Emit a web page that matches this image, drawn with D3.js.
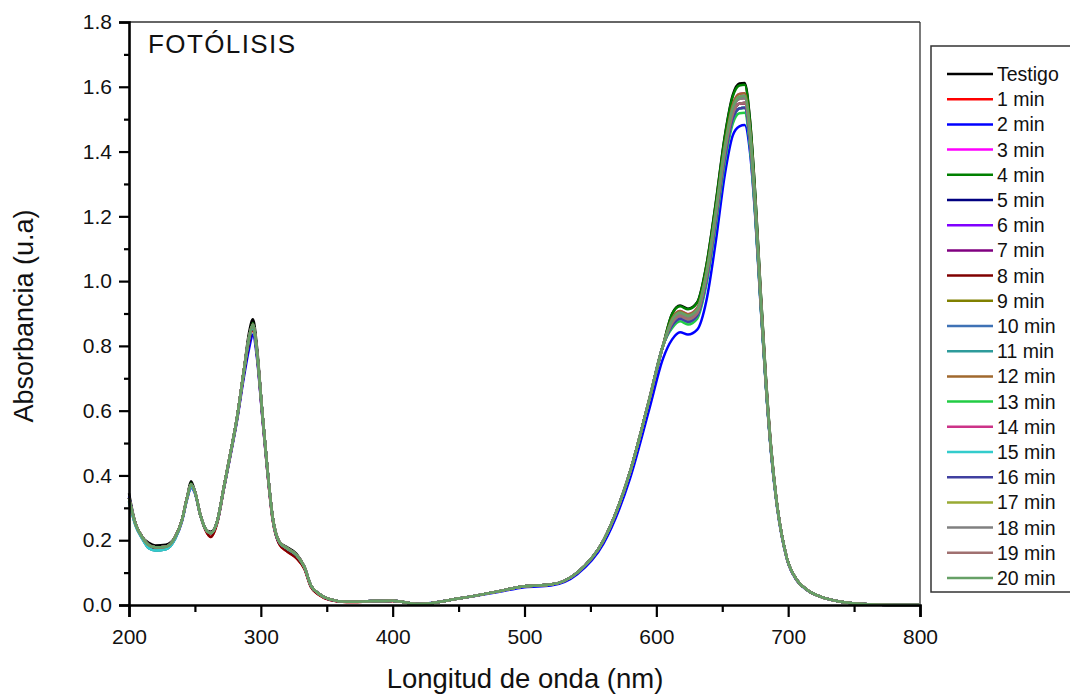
<!DOCTYPE html>
<html>
<head>
<meta charset="utf-8">
<script src="https://cdn.jsdelivr.net/npm/d3@7"></script>
<style>
  body { margin: 0; background: #fff; }
  text { font-family: "Liberation Sans", Arial, sans-serif; fill: #111; }
</style>
</head>
<body>
<script>
// wavelengths (nm) shared by every spectrum
var wavelengths = [200,205,210,215,220,228,235,240,244,247,250,254,258,262,267,272,277,282,287,291,294,297,301,305,309,314,320,327,333,338,344,352,365,385,400,420,450,480,500,520,540,560,580,595,605,612,618,624,631,638,645,652,658,663,667,671,675,679,683,687,691,699,707,715,725,740,760,780,800];

var seriesNames = ["Testigo","1 min","2 min","3 min","4 min","5 min","6 min","7 min","8 min","9 min","10 min","11 min","12 min","13 min","14 min","15 min","16 min","17 min","18 min","19 min","20 min"];

var seriesColors = ["#000000","#ff0000","#0000ff","#ff00ff","#008000","#000080","#8000ff","#800080","#800000","#808000","#3f72b5","#2e9b9b","#a0692e","#22cc44","#cc3388","#33cccc","#4040a0","#99aa33","#808080","#a07070","#66a066"];

// absorbance, one array per spectrum
var testigo = [0.345,0.25,0.21,0.192,0.184,0.186,0.21,0.26,0.33,0.382,0.35,0.28,0.235,0.226,0.26,0.365,0.47,0.58,0.72,0.84,0.882,0.80,0.60,0.42,0.27,0.195,0.178,0.158,0.118,0.06,0.035,0.018,0.01,0.012,0.013,0.003,0.02,0.042,0.058,0.063,0.1,0.2,0.41,0.64,0.8,0.900,0.925,0.915,0.935,1.050,1.240,1.450,1.575,1.610,1.612,1.500,1.270,0.980,0.710,0.490,0.330,0.145,0.075,0.045,0.025,0.01,0.002,0,0];
var min1 = [0.33,0.25,0.21,0.182,0.176,0.178,0.21,0.26,0.33,0.37,0.35,0.28,0.232,0.21,0.255,0.36,0.465,0.575,0.71,0.81,0.855,0.775,0.59,0.41,0.262,0.188,0.165,0.145,0.112,0.056,0.032,0.016,0.009,0.011,0.012,0.003,0.02,0.042,0.058,0.063,0.1,0.2,0.41,0.64,0.8,0.877,0.900,0.890,0.909,1.020,1.205,1.408,1.530,1.563,1.565,1.458,1.238,0.958,0.696,0.482,0.327,0.145,0.075,0.045,0.025,0.01,0.002,0,0];
var min2 = [0.335,0.25,0.21,0.18,0.172,0.176,0.205,0.255,0.325,0.362,0.345,0.278,0.233,0.222,0.256,0.36,0.462,0.57,0.7,0.79,0.835,0.765,0.585,0.41,0.265,0.19,0.172,0.152,0.115,0.058,0.034,0.017,0.01,0.012,0.013,0.003,0.02,0.04,0.055,0.06,0.095,0.19,0.39,0.61,0.76,0.820,0.842,0.835,0.850,0.940,1.120,1.330,1.450,1.478,1.482,1.400,1.200,0.930,0.680,0.470,0.320,0.142,0.073,0.044,0.025,0.01,0.002,0,0];
var min3 = [0.33,0.25,0.21,0.185,0.178,0.18,0.21,0.26,0.33,0.372,0.35,0.28,0.235,0.222,0.26,0.365,0.47,0.58,0.72,0.825,0.865,0.785,0.60,0.42,0.27,0.195,0.175,0.155,0.118,0.06,0.035,0.018,0.01,0.012,0.013,0.003,0.02,0.042,0.058,0.063,0.1,0.2,0.41,0.64,0.8,0.885,0.908,0.898,0.917,1.030,1.215,1.422,1.545,1.578,1.580,1.472,1.248,0.965,0.700,0.485,0.328,0.145,0.075,0.045,0.025,0.01,0.002,0,0];
var min4 = [0.33,0.25,0.21,0.185,0.178,0.18,0.21,0.26,0.33,0.375,0.35,0.28,0.235,0.223,0.26,0.365,0.47,0.58,0.72,0.83,0.87,0.79,0.60,0.42,0.27,0.195,0.176,0.156,0.118,0.06,0.035,0.018,0.01,0.012,0.013,0.003,0.02,0.042,0.058,0.063,0.1,0.2,0.41,0.64,0.8,0.898,0.922,0.913,0.933,1.048,1.236,1.446,1.570,1.604,1.606,1.496,1.268,0.978,0.709,0.489,0.330,0.145,0.075,0.045,0.025,0.01,0.002,0,0];
var min5 = [0.33,0.25,0.21,0.185,0.178,0.18,0.21,0.26,0.33,0.372,0.35,0.28,0.235,0.222,0.26,0.365,0.47,0.58,0.72,0.825,0.865,0.785,0.60,0.42,0.27,0.195,0.175,0.155,0.118,0.06,0.035,0.018,0.01,0.012,0.013,0.003,0.02,0.042,0.058,0.063,0.1,0.2,0.41,0.64,0.8,0.870,0.892,0.882,0.900,1.010,1.193,1.395,1.515,1.548,1.550,1.444,1.226,0.950,0.690,0.478,0.326,0.145,0.075,0.045,0.025,0.01,0.002,0,0];
var min6 = [0.33,0.25,0.21,0.185,0.178,0.18,0.21,0.26,0.33,0.372,0.35,0.28,0.235,0.222,0.26,0.365,0.47,0.58,0.72,0.825,0.865,0.785,0.60,0.42,0.27,0.195,0.175,0.155,0.118,0.06,0.035,0.018,0.01,0.012,0.013,0.003,0.02,0.042,0.058,0.063,0.1,0.2,0.41,0.64,0.8,0.877,0.900,0.890,0.909,1.020,1.205,1.408,1.530,1.563,1.565,1.458,1.238,0.958,0.696,0.482,0.327,0.145,0.075,0.045,0.025,0.01,0.002,0,0];
var min7 = [0.33,0.25,0.21,0.185,0.178,0.18,0.21,0.26,0.33,0.372,0.35,0.28,0.235,0.222,0.26,0.365,0.47,0.58,0.72,0.825,0.865,0.785,0.60,0.42,0.27,0.195,0.175,0.155,0.118,0.06,0.035,0.018,0.01,0.012,0.013,0.003,0.02,0.042,0.058,0.063,0.1,0.2,0.41,0.64,0.8,0.870,0.892,0.882,0.900,1.010,1.193,1.395,1.515,1.548,1.550,1.444,1.226,0.950,0.690,0.478,0.326,0.145,0.075,0.045,0.025,0.01,0.002,0,0];
var min8 = [0.33,0.25,0.21,0.182,0.176,0.178,0.21,0.26,0.33,0.37,0.35,0.28,0.232,0.21,0.255,0.36,0.465,0.575,0.71,0.81,0.855,0.775,0.59,0.41,0.262,0.188,0.165,0.145,0.112,0.056,0.032,0.016,0.009,0.011,0.012,0.003,0.02,0.042,0.058,0.063,0.1,0.2,0.41,0.64,0.8,0.870,0.892,0.882,0.900,1.010,1.193,1.395,1.515,1.548,1.550,1.444,1.226,0.950,0.690,0.478,0.326,0.145,0.075,0.045,0.025,0.01,0.002,0,0];
var min9 = [0.33,0.25,0.21,0.185,0.178,0.18,0.21,0.26,0.33,0.372,0.35,0.28,0.235,0.222,0.26,0.365,0.47,0.58,0.72,0.825,0.865,0.785,0.60,0.42,0.27,0.195,0.175,0.155,0.118,0.06,0.035,0.018,0.01,0.012,0.013,0.003,0.02,0.042,0.058,0.063,0.1,0.2,0.41,0.64,0.8,0.862,0.884,0.874,0.892,1.000,1.180,1.380,1.500,1.533,1.535,1.430,1.214,0.942,0.686,0.476,0.325,0.145,0.075,0.045,0.025,0.01,0.002,0,0];
var min10 = [0.32,0.245,0.205,0.175,0.168,0.172,0.205,0.258,0.328,0.365,0.348,0.28,0.235,0.222,0.26,0.363,0.468,0.578,0.716,0.82,0.86,0.78,0.598,0.418,0.268,0.194,0.174,0.154,0.117,0.06,0.035,0.018,0.01,0.012,0.013,0.003,0.02,0.042,0.058,0.063,0.1,0.2,0.41,0.64,0.8,0.862,0.884,0.874,0.892,1.000,1.180,1.380,1.500,1.533,1.535,1.430,1.214,0.942,0.686,0.476,0.325,0.145,0.075,0.045,0.025,0.01,0.002,0,0];
var min11 = [0.32,0.245,0.205,0.175,0.168,0.172,0.205,0.258,0.328,0.365,0.348,0.28,0.235,0.222,0.26,0.363,0.468,0.578,0.716,0.82,0.86,0.78,0.598,0.418,0.268,0.194,0.174,0.154,0.117,0.06,0.035,0.018,0.01,0.012,0.013,0.003,0.02,0.042,0.058,0.063,0.1,0.2,0.41,0.64,0.8,0.862,0.884,0.874,0.892,1.000,1.180,1.380,1.500,1.533,1.535,1.430,1.214,0.942,0.686,0.476,0.325,0.145,0.075,0.045,0.025,0.01,0.002,0,0];
var min12 = [0.33,0.25,0.21,0.185,0.178,0.18,0.21,0.26,0.33,0.372,0.35,0.28,0.235,0.222,0.26,0.365,0.47,0.58,0.72,0.825,0.865,0.785,0.60,0.42,0.27,0.195,0.175,0.155,0.118,0.06,0.035,0.018,0.01,0.012,0.013,0.003,0.02,0.042,0.058,0.063,0.1,0.2,0.41,0.64,0.8,0.885,0.908,0.898,0.917,1.030,1.215,1.422,1.545,1.578,1.580,1.472,1.248,0.965,0.700,0.485,0.328,0.145,0.075,0.045,0.025,0.01,0.002,0,0];
var min13 = [0.33,0.25,0.21,0.185,0.178,0.18,0.21,0.26,0.33,0.372,0.35,0.28,0.235,0.222,0.26,0.365,0.47,0.58,0.72,0.825,0.865,0.785,0.60,0.42,0.27,0.195,0.175,0.155,0.118,0.06,0.035,0.018,0.01,0.012,0.013,0.003,0.02,0.042,0.058,0.063,0.1,0.2,0.41,0.64,0.8,0.855,0.876,0.866,0.884,0.990,1.168,1.368,1.486,1.518,1.520,1.416,1.204,0.935,0.682,0.474,0.324,0.145,0.075,0.045,0.025,0.01,0.002,0,0];
var min14 = [0.33,0.25,0.21,0.185,0.178,0.18,0.21,0.26,0.33,0.372,0.35,0.28,0.235,0.222,0.26,0.365,0.47,0.58,0.72,0.825,0.865,0.785,0.60,0.42,0.27,0.195,0.175,0.155,0.118,0.06,0.035,0.018,0.01,0.012,0.013,0.003,0.02,0.042,0.058,0.063,0.1,0.2,0.41,0.64,0.8,0.870,0.892,0.882,0.900,1.010,1.193,1.395,1.515,1.548,1.550,1.444,1.226,0.950,0.690,0.478,0.326,0.145,0.075,0.045,0.025,0.01,0.002,0,0];
var min15 = [0.32,0.245,0.205,0.175,0.168,0.172,0.205,0.258,0.328,0.365,0.348,0.28,0.235,0.222,0.26,0.363,0.468,0.578,0.716,0.82,0.86,0.78,0.598,0.418,0.268,0.194,0.174,0.154,0.117,0.06,0.035,0.018,0.01,0.012,0.013,0.003,0.02,0.042,0.058,0.063,0.1,0.2,0.41,0.64,0.8,0.862,0.884,0.874,0.892,1.000,1.180,1.380,1.500,1.533,1.535,1.430,1.214,0.942,0.686,0.476,0.325,0.145,0.075,0.045,0.025,0.01,0.002,0,0];
var min16 = [0.33,0.25,0.21,0.185,0.178,0.18,0.21,0.26,0.33,0.372,0.35,0.28,0.235,0.222,0.26,0.365,0.47,0.58,0.72,0.825,0.865,0.785,0.60,0.42,0.27,0.195,0.175,0.155,0.118,0.06,0.035,0.018,0.01,0.012,0.013,0.003,0.02,0.042,0.058,0.063,0.1,0.2,0.41,0.64,0.8,0.862,0.884,0.874,0.892,1.000,1.180,1.380,1.500,1.533,1.535,1.430,1.214,0.942,0.686,0.476,0.325,0.145,0.075,0.045,0.025,0.01,0.002,0,0];
var min17 = [0.33,0.25,0.21,0.185,0.178,0.18,0.21,0.26,0.33,0.372,0.35,0.28,0.235,0.222,0.26,0.365,0.47,0.58,0.72,0.825,0.865,0.785,0.60,0.42,0.27,0.195,0.175,0.155,0.118,0.06,0.035,0.018,0.01,0.012,0.013,0.003,0.02,0.042,0.058,0.063,0.1,0.2,0.41,0.64,0.8,0.877,0.900,0.890,0.909,1.020,1.205,1.408,1.530,1.563,1.565,1.458,1.238,0.958,0.696,0.482,0.327,0.145,0.075,0.045,0.025,0.01,0.002,0,0];
var min18 = [0.33,0.25,0.21,0.185,0.178,0.18,0.21,0.26,0.33,0.372,0.35,0.28,0.235,0.222,0.26,0.365,0.47,0.58,0.72,0.825,0.865,0.785,0.60,0.42,0.27,0.195,0.175,0.155,0.118,0.06,0.035,0.018,0.01,0.012,0.013,0.003,0.02,0.042,0.058,0.063,0.1,0.2,0.41,0.64,0.8,0.877,0.900,0.890,0.909,1.020,1.205,1.408,1.530,1.563,1.565,1.458,1.238,0.958,0.696,0.482,0.327,0.145,0.075,0.045,0.025,0.01,0.002,0,0];
var min19 = [0.33,0.25,0.21,0.185,0.178,0.18,0.21,0.26,0.33,0.372,0.35,0.28,0.235,0.222,0.26,0.365,0.47,0.58,0.72,0.825,0.865,0.785,0.60,0.42,0.27,0.195,0.175,0.155,0.118,0.06,0.035,0.018,0.01,0.012,0.013,0.003,0.02,0.042,0.058,0.063,0.1,0.2,0.41,0.64,0.8,0.870,0.892,0.882,0.900,1.010,1.193,1.395,1.515,1.548,1.550,1.444,1.226,0.950,0.690,0.478,0.326,0.145,0.075,0.045,0.025,0.01,0.002,0,0];
var min20 = [0.33,0.25,0.21,0.185,0.178,0.18,0.21,0.26,0.33,0.372,0.35,0.28,0.235,0.222,0.26,0.365,0.47,0.58,0.72,0.825,0.865,0.785,0.60,0.42,0.27,0.195,0.175,0.155,0.118,0.06,0.035,0.018,0.01,0.012,0.013,0.003,0.02,0.042,0.058,0.063,0.1,0.2,0.41,0.64,0.8,0.880,0.903,0.893,0.912,1.024,1.210,1.414,1.536,1.570,1.572,1.464,1.242,0.961,0.698,0.484,0.328,0.145,0.075,0.045,0.025,0.01,0.002,0,0];

var spectra = [testigo,min1,min2,min3,min4,min5,min6,min7,min8,min9,min10,min11,min12,min13,min14,min15,min16,min17,min18,min19,min20];

var xTicks = [200,300,400,500,600,700,800];
var xMinor = [250,350,450,550,650,750];
var yTicks = [0,0.2,0.4,0.6,0.8,1.0,1.2,1.4,1.6,1.8];
var yMinor = [0.1,0.3,0.5,0.7,0.9,1.1,1.3,1.5,1.7];

var W = 1070, H = 694;
var plotLeft = 129, plotRight = 920, plotTop = 22, plotBottom = 605;

var svg = d3.select("body").append("svg")
  .attr("width", W)
  .attr("height", H);

var x = d3.scaleLinear().domain([200, 800]).range([plotLeft, plotRight]);
var y = d3.scaleLinear().domain([0, 1.8]).range([plotBottom, plotTop]);

// frame: thin top / right lines
svg.append("line")
  .attr("x1", plotLeft).attr("x2", plotRight).attr("y1", plotTop).attr("y2", plotTop)
  .attr("stroke", "#333").attr("stroke-width", 1.3);
svg.append("line")
  .attr("x1", plotRight).attr("x2", plotRight).attr("y1", plotTop).attr("y2", plotBottom)
  .attr("stroke", "#333").attr("stroke-width", 1.3);

// spectra
var line = d3.line()
  .x((d, i) => x(wavelengths[i]))
  .y(d => y(d))
  .curve(d3.curveMonotoneX);

var plot = svg.append("g").attr("id", "spectra");
spectra.forEach((s, i) => {
  plot.append("path")
    .datum(s)
    .attr("d", line)
    .attr("fill", "none")
    .attr("stroke", seriesColors[i])
    .attr("stroke-width", 2.5)
    .attr("stroke-linejoin", "round");
});

// axes
svg.append("g")
  .attr("transform", "translate(0," + plotBottom + ")")
  .call(d3.axisBottom(x).tickValues(xTicks).tickSize(12).tickPadding(12).tickFormat(d3.format("d")));
svg.append("g")
  .attr("transform", "translate(0," + plotBottom + ")")
  .call(d3.axisBottom(x).tickValues(xMinor).tickSize(7).tickFormat(""))
  .select(".domain").remove();

svg.append("g")
  .attr("transform", "translate(" + plotLeft + ",0)")
  .call(d3.axisLeft(y).tickValues(yTicks).tickSize(10).tickPadding(7).tickFormat(d3.format(".1f")));
svg.append("g")
  .attr("transform", "translate(" + plotLeft + ",0)")
  .call(d3.axisLeft(y).tickValues(yMinor).tickSize(5).tickFormat(""))
  .select(".domain").remove();

svg.selectAll(".domain").attr("stroke", "#000").attr("stroke-width", 2.6);
svg.selectAll(".tick line").attr("stroke", "#000").attr("stroke-width", 2.2);
svg.selectAll(".tick text")
  .attr("font-size", 21)
  .style("font-size", "21px")
  .attr("fill", "#1a1a1a");

// titles
svg.append("text")
  .text("Longitud de onda (nm)")
  .attr("x", 525)
  .attr("y", 688)
  .attr("text-anchor", "middle")
  .style("font-size", "27.5px");

svg.append("text")
  .text("Absorbancia (u.a)")
  .attr("transform", "translate(33,316) rotate(-90)")
  .attr("text-anchor", "middle")
  .style("font-size", "27px");

svg.append("text")
  .text("FOTÓLISIS")
  .attr("x", 148)
  .attr("y", 53)
  .style("font-size", "26px")
  .style("letter-spacing", "1.4px");

// legend
var lg = svg.append("g").attr("id", "legend");
lg.append("rect")
  .attr("x", 931).attr("y", 46)
  .attr("width", 140).attr("height", 546)
  .attr("fill", "#fff")
  .attr("stroke", "#333").attr("stroke-width", 1.5);

var step = 25.2;
seriesNames.forEach((name, i) => {
  var cy = 74 + i * step;
  lg.append("line")
    .attr("x1", 947).attr("x2", 993)
    .attr("y1", cy).attr("y2", cy)
    .attr("stroke", seriesColors[i])
    .attr("stroke-width", 2.5);
  lg.append("text")
    .text(name)
    .attr("x", 997)
    .attr("y", cy + 7)
    .style("font-size", "19.5px");
});
</script>
</body>
</html>
